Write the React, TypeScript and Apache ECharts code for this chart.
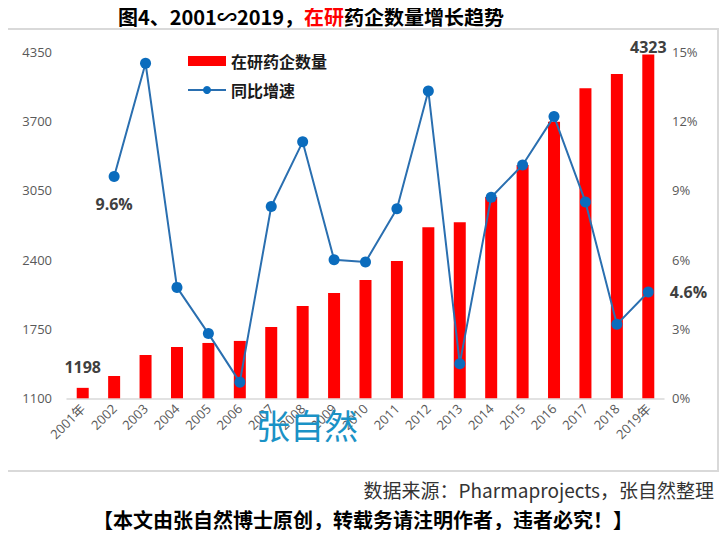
import React, { useEffect, useRef } from "react";
import * as echarts from "echarts";

const years = ["2001年", "2002", "2003", "2004", "2005", "2006", "2007", "2008", "2009", "2010", "2011", "2012", "2013", "2014", "2015", "2016", "2017", "2018", "2019年"];
const companyCounts = [1198, 1309, 1506, 1581, 1619, 1638, 1769, 1965, 2087, 2209, 2387, 2703, 2750, 2987, 3288, 3693, 4007, 4141, 4323];
const growthRates = [null, 9.6, 14.5, 4.8, 2.8, 0.7, 8.3, 11.1, 6.0, 5.9, 8.2, 13.3, 1.5, 8.7, 10.1, 12.2, 8.5, 3.2, 4.6];
const leftTicks = [1100, 1750, 2400, 3050, 3700, 4350];
const barLabelIdx = [0, 18];
const lineLabelIdx = [1, 18];

const CJK = '"Noto Sans CJK SC", "Open Sans", sans-serif';
const NUM = '"Open Sans", "Noto Sans CJK SC", sans-serif';

export default function App() {
  const ref = useRef<HTMLDivElement>(null);
  useEffect(() => {
    if (!ref.current) return;
    const chart = echarts.init(ref.current, null, { renderer: "svg" });
    const barData = companyCounts.map((v, i) =>
      barLabelIdx.includes(i)
        ? {
            value: v,
            label: {
              show: true,
              position: "top",
              distance: i === 0 ? 13 : 0,
              fontFamily: NUM,
              fontWeight: "bold",
              fontSize: 16,
              color: "#404040",
            },
          }
        : v
    );
    const lineData = growthRates.map((v, i) =>
      lineLabelIdx.includes(i)
        ? {
            value: v,
            label: {
              show: true,
              position: i === 18 ? "right" : "bottom",
              distance: i === 18 ? 16 : 14,
              formatter: (p: any) => Number(p.value).toFixed(1) + "%",
              fontFamily: NUM,
              fontWeight: "bold",
              fontSize: 16,
              color: "#404040",
            },
          }
        : v
    );
    chart.setOption({
      animation: false,
      backgroundColor: "#ffffff",
      grid: { left: 67, right: 64, top: 51.7, bottom: 139.7 },
      legend: {
        orient: "vertical",
        left: 182,
        top: 48,
        itemWidth: 38,
        itemHeight: 10,
        itemGap: 13,
        textStyle: { fontFamily: CJK, fontSize: 16, fontWeight: "bold", color: "#1a1a1a" },
        data: [
          { name: "在研药企数量", icon: "rect" },
          { name: "同比增速" },
        ],
      },
      xAxis: {
        type: "category",
        data: years,
        axisLine: { lineStyle: { color: "#d9d9d9", width: 1.5 } },
        axisTick: { show: false },
        axisLabel: {
          interval: 0,
          rotate: 45,
          margin: 8,
          fontFamily: NUM,
          fontSize: 13,
          color: "#595959",
        },
      },
      yAxis: [
        {
          type: "value",
          min: 1100,
          max: 4350,
          splitLine: { show: false },
          axisLine: { show: false },
          axisTick: { show: false },
          axisLabel: {
            customValues: leftTicks,
            formatter: (v: number) => String(v),
            margin: 15,
            fontFamily: NUM,
            fontSize: 13,
            color: "#595959",
          },
        },
        {
          type: "value",
          min: 0,
          max: 15,
          interval: 3,
          splitLine: { show: false },
          axisLine: { show: false },
          axisTick: { show: false },
          axisLabel: {
            formatter: "{value}%",
            margin: 8,
            fontFamily: NUM,
            fontSize: 13,
            color: "#595959",
          },
        },
      ],
      series: [
        {
          name: "在研药企数量",
          type: "bar",
          yAxisIndex: 0,
          barWidth: 12,
          itemStyle: { color: "#ff0000" },
          data: barData,
          z: 2,
        },
        {
          name: "同比增速",
          type: "line",
          yAxisIndex: 1,
          symbol: "circle",
          symbolSize: 11,
          lineStyle: { color: "#2a6fb0", width: 2 },
          itemStyle: { color: "#0b6cbd" },
          data: lineData,
          z: 3,
        },
      ],
      graphic: [
        {
          type: "rect",
          shape: { x: 6, y: 29, width: 712, height: 442 },
          style: { fill: "none", stroke: "#d9d9d9", lineWidth: 2 },
          z: -1,
          silent: true,
        },
        {
          type: "text",
          x: 311,
          y: 16,
          style: {
            text: "{b|图4、2001∽2019，}{r|在研}{b|药企数量增长趋势}",
            align: "center",
            verticalAlign: "middle",
            rich: {
              b: { fontFamily: CJK, fontSize: 20, fontWeight: "bold", fill: "#000000" },
              r: { fontFamily: CJK, fontSize: 20, fontWeight: "bold", fill: "#ff0000" },
            },
          },
        },
        {
          type: "text",
          x: 307,
          y: 424,
          z: 100,
          style: {
            text: "张自然",
            align: "center",
            verticalAlign: "middle",
            fontFamily: CJK,
            fontSize: 34,
            fill: "#1a92c6",
          },
        },
        {
          type: "text",
          x: 714,
          y: 489,
          style: {
            text: "数据来源：Pharmaprojects，张自然整理",
            align: "right",
            verticalAlign: "middle",
            fontFamily: CJK,
            fontSize: 19,
            fill: "#333333",
          },
        },
        {
          type: "text",
          x: 363,
          y: 519,
          style: {
            text: "【本文由张自然博士原创，转载务请注明作者，违者必究！】",
            align: "center",
            verticalAlign: "middle",
            fontFamily: CJK,
            fontSize: 20,
            fontWeight: "bold",
            fill: "#000000",
          },
        },
      ],
    });
    return () => chart.dispose();
  }, []);
  return <div ref={ref} style={{ width: 728, height: 538, margin: -8 }} />;
}
